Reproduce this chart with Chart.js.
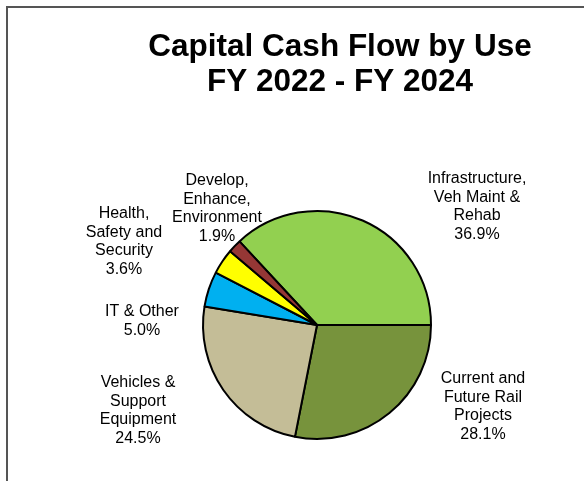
<!DOCTYPE html>
<html>
<head>
<meta charset="utf-8">
<script src="https://cdn.jsdelivr.net/npm/chart.js@4"></script>
<style>
  html, body { margin: 0; padding: 0; background: #fff; }
  #wrap { position: relative; width: 584px; height: 481px; }
</style>
</head>
<body>
<div id="wrap"><canvas id="chart" width="584" height="481"></canvas></div>
<script>
const categories = [
  ['Infrastructure,', 'Veh Maint &', 'Rehab'],
  ['Current and', 'Future Rail', 'Projects'],
  ['Vehicles &', 'Support', 'Equipment'],
  ['IT & Other'],
  ['Health,', 'Safety and', 'Security'],
  ['Develop,', 'Enhance,', 'Environment']
];
const shares = [36.9, 28.1, 24.5, 5.0, 3.6, 1.9];
const titleLines = ['Capital Cash Flow by Use', 'FY 2022 - FY 2024'];

const sliceColors = ['#92D050', '#77933C', '#C4BD97', '#00B0F0', '#FFFF00', '#953735'];
// where each label block sits (centre x, first baseline y)
const labelSpots = [[477, 183], [483, 383], [138, 387], [142, 316], [124, 218], [217, 185]];

const total = shares.reduce((a, b) => a + b, 0);
const FONT = '"Liberation Sans", Arial, sans-serif';

const framePlugin = {
  id: 'frame',
  beforeDraw(chart) {
    const ctx = chart.ctx;
    ctx.save();
    ctx.fillStyle = '#fff';
    ctx.fillRect(0, 0, chart.width, chart.height);
    ctx.strokeStyle = '#555';
    ctx.lineWidth = 2;
    ctx.beginPath();
    ctx.moveTo(7, chart.height);
    ctx.lineTo(7, 7);
    ctx.lineTo(chart.width, 7);
    ctx.stroke();
    ctx.restore();
  }
};

const textPlugin = {
  id: 'texts',
  afterDraw(chart) {
    const ctx = chart.ctx;
    ctx.save();
    ctx.fillStyle = '#000';
    ctx.textAlign = 'center';
    ctx.textBaseline = 'alphabetic';
    ctx.font = 'bold 31.5px ' + FONT;
    titleLines.forEach((t, i) => ctx.fillText(t, 340, 56 + i * 35));

    ctx.font = '16px ' + FONT;
    chart.data.labels.forEach((lab, i) => {
      const lines = lab.concat([shares[i].toFixed(1) + '%']);
      const [x, y] = labelSpots[i];
      lines.forEach((l, j) => ctx.fillText(l, x, y + j * 18.6));
    });
    ctx.restore();
  }
};

new Chart(document.getElementById('chart'), {
  type: 'pie',
  data: {
    labels: categories,
    datasets: [{
      data: shares,
      backgroundColor: sliceColors,
      borderColor: '#000',
      borderWidth: 2,
      radius: 114
    }]
  },
  options: {
    responsive: false,
    animation: false,
    rotation: 90 - shares[0] / total * 360,
    layout: { padding: { left: 150, right: 100, top: 200, bottom: 31 } },
    plugins: {
      legend: { display: false },
      tooltip: { enabled: false },
      title: { display: false }
    }
  },
  plugins: [framePlugin, textPlugin]
});
</script>
</body>
</html>
